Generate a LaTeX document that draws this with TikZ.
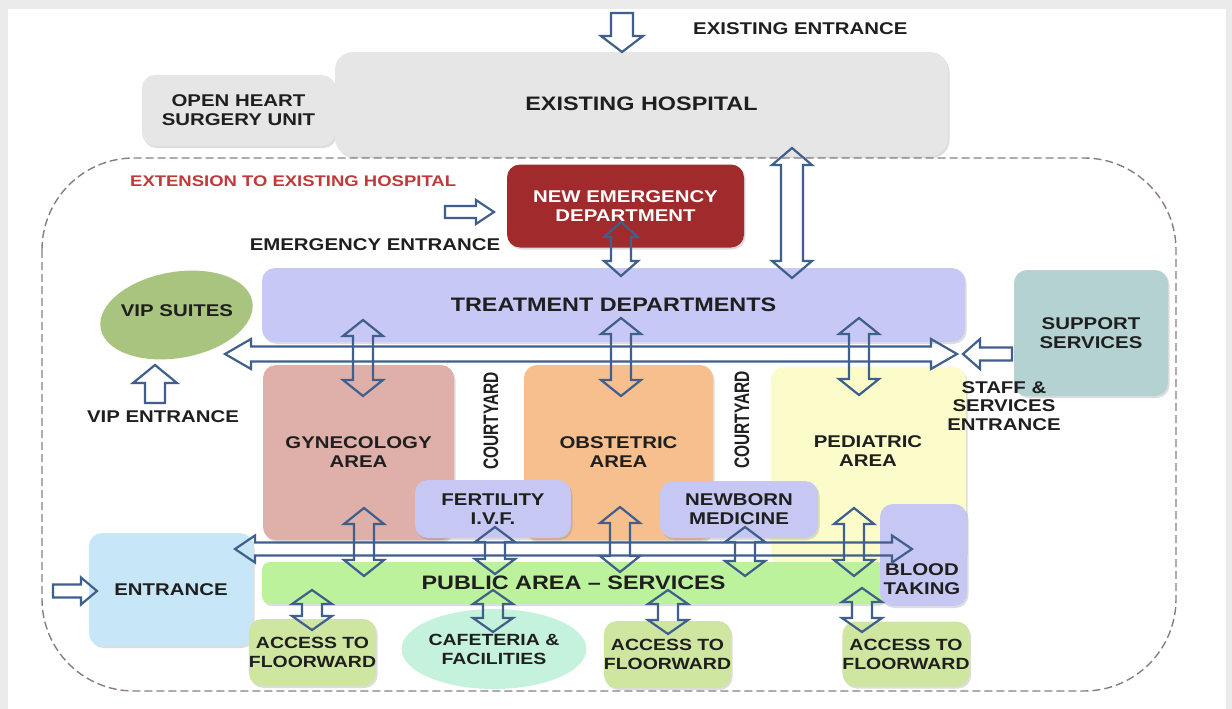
\documentclass[tikz,border=0pt]{standalone}
\usepackage{fontspec}
\newfontfamily\lblfont{Liberation Sans}[FakeStretch=1.2]
\newfontfamily\uprightfont{Liberation Sans}
\usetikzlibrary{calc,shadows,shapes.geometric}

\definecolor{framegray}{HTML}{EBEBEB}
\definecolor{hospgray}{HTML}{E6E6E6}
\definecolor{emerred}{HTML}{A02A2C}
\definecolor{treatlav}{HTML}{C8C8F6}
\definecolor{vipgreen}{HTML}{A9C47E}
\definecolor{supteal}{HTML}{B5D2D2}
\definecolor{gynpink}{HTML}{DFB0A9}
\definecolor{obsorange}{HTML}{F8BF8E}
\definecolor{pedyellow}{HTML}{FCFCCB}
\definecolor{sublav}{HTML}{C7C7F3}
\definecolor{entblue}{HTML}{C7E6F8}
\definecolor{pubgreen}{HTML}{BDF29C}
\definecolor{accgreen}{HTML}{CFE6A0}
\definecolor{cafmint}{HTML}{C5F2DC}
\definecolor{flowblue}{HTML}{3F5F8C}
\definecolor{dashc}{HTML}{8C7D7D}
\definecolor{extred}{HTML}{C0393B}
\definecolor{ink}{HTML}{1F1F1F}

% hollow block arrow with heads at both ends: from, to, shaft half-width, head half-width, head length
\newcommand\dblflow[5]{%
  \draw[flow] (#1)
    -- ($(#1)!#5pt!(#2)!#4pt!90:(#2)$)
    -- ($(#1)!#5pt!(#2)!#3pt!90:(#2)$)
    -- ($(#2)!#5pt!(#1)!#3pt!-90:(#1)$)
    -- ($(#2)!#5pt!(#1)!#4pt!-90:(#1)$)
    -- (#2)
    -- ($(#2)!#5pt!(#1)!#4pt!90:(#1)$)
    -- ($(#2)!#5pt!(#1)!#3pt!90:(#1)$)
    -- ($(#1)!#5pt!(#2)!#3pt!-90:(#2)$)
    -- ($(#1)!#5pt!(#2)!#4pt!-90:(#2)$)
    -- cycle;}
% hollow block arrow from a tail to a tip
\newcommand\oneflow[5]{%
  \draw[flow] ($(#1)!#3pt!90:(#2)$)
    -- ($(#2)!#5pt!(#1)!#3pt!-90:(#1)$)
    -- ($(#2)!#5pt!(#1)!#4pt!-90:(#1)$)
    -- (#2)
    -- ($(#2)!#5pt!(#1)!#4pt!90:(#1)$)
    -- ($(#2)!#5pt!(#1)!#3pt!90:(#1)$)
    -- ($(#1)!#3pt!-90:(#2)$)
    -- cycle;}

\begin{document}
\begin{tikzpicture}[x=1pt,y=-1pt,
  box/.style={rectangle, rounded corners=13pt, inner sep=0pt,
    drop shadow={shadow xshift=1.5pt, shadow yshift=-2pt, opacity=0.22, fill=black!60}},
  blob/.style={ellipse, inner sep=0pt},
  lbl/.style={font=\lblfont\bfseries\fontsize{17}{19}\selectfont, text=ink, align=center, inner sep=0pt},
  biglbl/.style={lbl, font=\lblfont\bfseries\fontsize{19.5}{22}\selectfont},
  acclbl/.style={lbl, font=\lblfont\bfseries\fontsize{16.2}{19}\selectfont},
  vertlbl/.style={lbl, font=\uprightfont\bfseries\fontsize{15.5}{18}\selectfont, rotate=90, yscale=1.35},
  flow/.style={draw=flowblue, line width=2.2pt, line join=miter}]

\useasboundingbox (0,0) rectangle (1232,709);
\fill[framegray] (0,0) rectangle (1232,709);
\fill[white] (8,9) rectangle (1226,709);

% boundary of the extension
\draw[dashc, line width=1.4pt, dash pattern=on 8pt off 4pt, rounded corners=92pt]
  (42,158) rectangle (1176,691);

% existing building
\node[box, fill=hospgray, minimum width=193pt, minimum height=71pt, lbl] (heart) at (238.5,110.5) {OPEN HEART\\SURGERY UNIT};
\node[box, fill=hospgray, minimum width=613pt, minimum height=104pt, biglbl, rounded corners=18pt] (hosp) at (641.5,104) {EXISTING HOSPITAL};
\node[lbl, anchor=west] (exent) at (693,29) {EXISTING ENTRANCE};

\node[lbl, font=\lblfont\bfseries\fontsize{15.4}{18}\selectfont, text=extred, anchor=west] (ext) at (130,181) {EXTENSION TO EXISTING HOSPITAL};

% departments
\node[box, fill=emerred, minimum width=237pt, minimum height=83pt, lbl, text=white] (emer) at (625.5,206) {NEW EMERGENCY\\DEPARTMENT};
\node[lbl] (emerent) at (375,245) {EMERGENCY ENTRANCE};
\node[box, fill=treatlav, minimum width=703pt, minimum height=74pt, biglbl] (treat) at (613.5,305) {TREATMENT DEPARTMENTS};
\node[blob, fill=vipgreen, minimum width=154pt, minimum height=86pt, rotate=10] (vip) at (176.5,315) {};
\node[lbl] (viplbl) at (177,311) {VIP SUITES};
\node[lbl] (vipent) at (163,417) {VIP ENTRANCE};
\node[box, fill=supteal, minimum width=154pt, minimum height=126pt, lbl] (sup) at (1091,333) {SUPPORT\\SERVICES};

\node[box, fill=gynpink, minimum width=191pt, minimum height=175pt, lbl] (gyn) at (358.5,452.5) {GYNECOLOGY\\AREA};
\node[box, fill=obsorange, minimum width=189pt, minimum height=175pt, lbl] (obs) at (618.5,452.5) {OBSTETRIC\\AREA};
\node[box, fill=pedyellow, minimum width=195pt, minimum height=198pt] (ped) at (868.5,466) {};
\node[lbl] (pedlbl) at (868,451) {PEDIATRIC\\AREA};
\node[vertlbl] (court1) at (491,421) {COURTYARD};
\node[vertlbl] (court2) at (742,420) {COURTYARD};

\node[box, fill=sublav, minimum width=156pt, minimum height=58pt, lbl] (fert) at (493,509) {FERTILITY\\I.V.F.};
\node[box, fill=sublav, minimum width=158pt, minimum height=57pt, lbl] (newb) at (739,509.5) {NEWBORN\\MEDICINE};

\node[box, fill=entblue, minimum width=164pt, minimum height=113pt, lbl] (entr) at (171,589.5) {ENTRANCE};
\node[box, fill=pubgreen, minimum width=623pt, minimum height=42pt, rounded corners=8pt, biglbl] (pub) at (573.5,583) {PUBLIC AREA – SERVICES};
\node[box, fill=sublav, minimum width=87pt, minimum height=102pt] (blood) at (923.5,555) {};
\node[lbl] (bloodlbl) at (922,579) {BLOOD\\TAKING};

\node[box, fill=accgreen, minimum width=107pt, minimum height=67pt, acclbl] (acc1) at (312.5,652.5) {ACCESS TO\\FLOORWARD};
\node[blob, fill=cafmint, minimum width=138pt, minimum height=80pt, acclbl] (caf) at (494,649) {CAFETERIA \&\\FACILITIES};
\node[box, fill=accgreen, minimum width=103pt, minimum height=67pt, acclbl] (acc2) at (667.5,654.5) {ACCESS TO\\FLOORWARD};
\node[box, fill=accgreen, minimum width=120pt, minimum height=65pt, acclbl] (acc3) at (906,654) {ACCESS TO\\FLOORWARD};

% staff entrance label sits over the neighbouring blocks
\node[lbl, font=\lblfont\bfseries\fontsize{17}{18.5}\selectfont] (staff) at (1004,406) {STAFF \&\\SERVICES\\ENTRANCE};

% arrow end points
\coordinate (exT) at (622,13);   \coordinate (exH) at (622,52);
\coordinate (emT) at (445,212);  \coordinate (emH) at (494,212);
\coordinate (viT) at (155,403);  \coordinate (viH) at (155,365);
\coordinate (suT) at (1012,354); \coordinate (suH) at (963,354);
\coordinate (enT) at (53,591);   \coordinate (enH) at (97,591);

\coordinate (ht1) at (792,148);  \coordinate (ht2) at (792,278);
\coordinate (et1) at (621,222);  \coordinate (et2) at (621,276);
\coordinate (tg1) at (363,320);  \coordinate (tg2) at (363,396);
\coordinate (to1) at (621,318);  \coordinate (to2) at (621,396);
\coordinate (tp1) at (859,318);  \coordinate (tp2) at (859,395);
\coordinate (ua1) at (225,354);  \coordinate (ua2) at (957,354);
\coordinate (la1) at (235,549);  \coordinate (la2) at (912,549);
\coordinate (gp1) at (364,508);  \coordinate (gp2) at (364,576);
\coordinate (fp1) at (495,527);  \coordinate (fp2) at (495,574);
\coordinate (op1) at (620,507);  \coordinate (op2) at (620,572);
\coordinate (np1) at (745,527);  \coordinate (np2) at (745,576);
\coordinate (pp1) at (854,508);  \coordinate (pp2) at (854,576);
\coordinate (pa1) at (312,590);  \coordinate (pa2) at (312,630);
\coordinate (pc1) at (493,590);  \coordinate (pc2) at (493,632);
\coordinate (pb1) at (668,590);  \coordinate (pb2) at (668,634);
\coordinate (pd1) at (862,588);  \coordinate (pd2) at (862,632);

% entrances
\oneflow{exT}{exH}{11}{21}{16}
\oneflow{emT}{emH}{6}{12}{18}
\oneflow{viT}{viH}{10}{22}{18}
\oneflow{suT}{suH}{6.5}{15}{17}
\oneflow{enT}{enH}{6.5}{13.5}{16}

% circulation
\dblflow{ht1}{ht2}{11}{20}{17}
\dblflow{et1}{et2}{10}{17}{15}
\dblflow{tg1}{tg2}{10}{20}{16}
\dblflow{to1}{to2}{10}{20}{16}
\dblflow{tp1}{tp2}{10}{20}{16}
\dblflow{ua1}{ua2}{7.5}{15}{26}
\dblflow{la1}{la2}{6.5}{13.5}{20}
\dblflow{gp1}{gp2}{10}{20}{16}
\dblflow{fp1}{fp2}{10}{20}{15}
\dblflow{op1}{op2}{10}{20}{16}
\dblflow{np1}{np2}{10}{20}{15}
\dblflow{pp1}{pp2}{10}{20}{16}
\dblflow{pa1}{pa2}{10}{20}{14}
\dblflow{pc1}{pc2}{10}{20}{14}
\dblflow{pb1}{pb2}{10}{20}{14}
\dblflow{pd1}{pd2}{10}{20}{14}
\end{tikzpicture}
\end{document}
